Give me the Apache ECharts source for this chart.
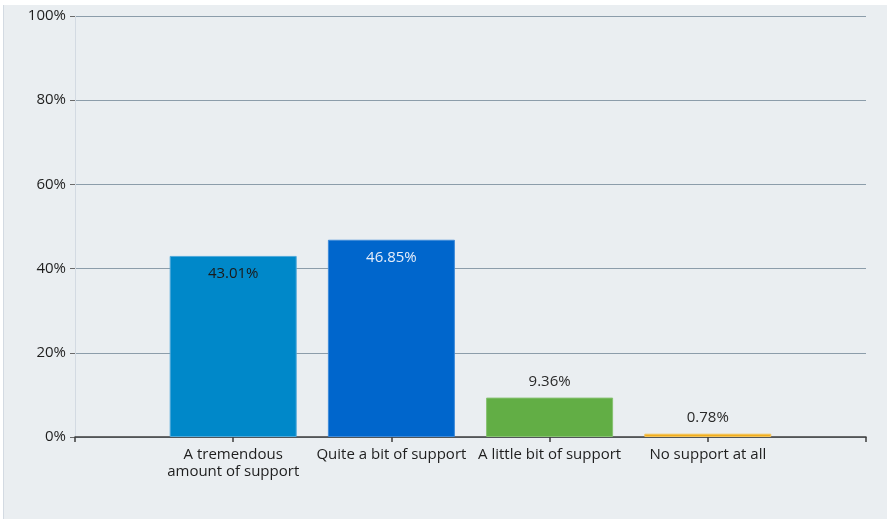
<!DOCTYPE html>
<html>
<head>
<meta charset="utf-8">
<script src="https://cdn.jsdelivr.net/npm/echarts@6/dist/echarts.min.js"></script>
<style>
html,body{margin:0;padding:0;background:#ffffff;}
#c{width:890px;height:519px;}
</style>
</head>
<body>
<div id="c"></div>
<script>
var categories = ['A tremendous\namount of support', 'Quite a bit of support', 'A little bit of support', 'No support at all'];
var values = [43.01, 46.85, 9.36, 0.78];
var yTicks = [0, 20, 40, 60, 80, 100];

var barColors = ['#0088C9', '#0066CC', '#62AE45', '#F0AE1E'];
var borderColors = ['#4FA9DA', '#3F8AD9', '#86C270', '#F5C45A'];
var labelPos = ['insideTop', 'insideTop', 'top', 'top'];
var labelColors = ['#1A1A1A', '#E6EEFA', '#2A2A2A', '#2A2A2A'];

var cats = [''].concat(categories).concat(['']);
var seriesData = ['-'];
values.forEach(function (v, i) {
  seriesData.push({
    value: v,
    itemStyle: { color: barColors[i], borderColor: borderColors[i], borderWidth: 1 },
    label: {
      position: labelPos[i],
      color: labelColors[i],
      distance: labelPos[i] === 'top' ? 8 : 10
    }
  });
});
seriesData.push('-');

var chart = echarts.init(document.getElementById('c'));
var font = '"Open Sans", Roboto, "Liberation Sans", Arial, sans-serif';
chart.setOption({
  backgroundColor: '#ffffff',
  animation: false,
  textStyle: { fontFamily: font },
  graphic: [
    { type: 'rect', z: -10, shape: { x: 4, y: 5, width: 883, height: 514 }, style: { fill: '#EAEEF1' } },
    { type: 'line', z: -9, shape: { x1: 3.5, y1: 5, x2: 3.5, y2: 519 }, style: { stroke: '#D3DAE2', lineWidth: 1 } }
  ],
  grid: { left: 75, right: 24, top: 16, bottom: 82, containLabel: false },
  xAxis: {
    type: 'category',
    data: cats,
    boundaryGap: false,
    axisLine: { show: true, lineStyle: { color: '#3E3E3E', width: 1.5 } },
    axisTick: { show: true, length: 5, lineStyle: { color: '#3E3E3E', width: 1.5 } },
    axisLabel: { color: '#1E1E1E', fontSize: 15, margin: 9, lineHeight: 17, fontFamily: font, interval: 0 },
    splitLine: { show: false }
  },
  yAxis: {
    type: 'value',
    min: yTicks[0],
    max: yTicks[yTicks.length - 1],
    interval: yTicks[1] - yTicks[0],
    axisLine: { show: true, lineStyle: { color: '#D3DAE2', width: 1 } },
    axisTick: { show: true, length: 5, lineStyle: { color: '#6A6A6A', width: 1 } },
    axisLabel: { color: '#1E1E1E', fontSize: 15, margin: 9, formatter: '{value}%', fontFamily: font },
    splitLine: { show: true, lineStyle: { color: '#8C9DAA', width: 1.2 } }
  },
  series: [{
    type: 'bar',
    data: seriesData,
    barWidth: 127,
    label: {
      show: true,
      fontSize: 15,
      fontFamily: font,
      formatter: function (p) { return p.value.toFixed(2) + '%'; }
    }
  }]
});
</script>
</body>
</html>
